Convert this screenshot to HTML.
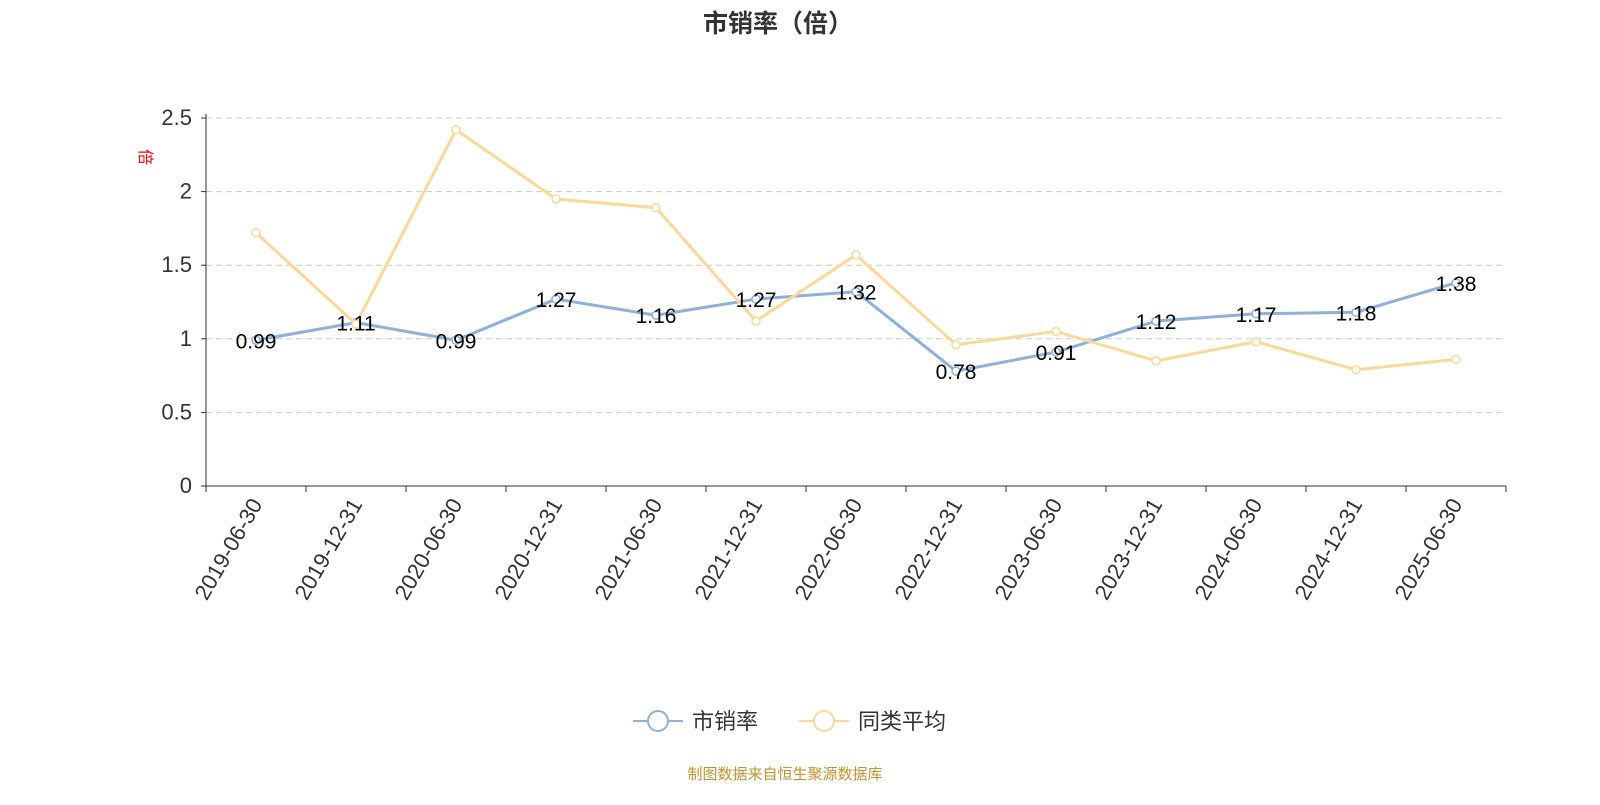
<!DOCTYPE html>
<html><head><meta charset="utf-8"><style>
body{margin:0;background:#fff;}
svg text{font-family:"Liberation Sans","Noto Sans CJK SC",sans-serif;}
</style></head><body>
<svg id="chart" width="1600" height="800" xmlns="http://www.w3.org/2000/svg">
<text x="778" y="32" text-anchor="middle" font-size="25" font-weight="bold" fill="#333">市销率（倍）</text>
<text x="0" y="0" transform="translate(140,157) rotate(90)" text-anchor="middle" font-size="16" fill="#ff0000">倍</text>
<g id="grid"></g><g id="axes"></g><g id="series"></g>
<g>
<g>
<line x1="633" y1="721" x2="683" y2="721" stroke="#8eb0dd" stroke-width="2"/>
<circle cx="658" cy="721" r="10" fill="#fff" stroke="#8eb0dd" stroke-width="2"/>
<text x="692" y="729" font-size="22" fill="#333">市销率</text></g>
<g>
<line x1="799" y1="721" x2="849" y2="721" stroke="#fdd898" stroke-width="2"/>
<circle cx="824" cy="721" r="10" fill="#fff" stroke="#fdd898" stroke-width="2"/>
<text x="858" y="729" font-size="22" fill="#333">同类平均</text></g>
</g>
<text x="785" y="779" text-anchor="middle" font-size="15" fill="#c8902a">制图数据来自恒生聚源数据库</text>
</svg>
<script>
const categories=["2019-06-30","2019-12-31","2020-06-30","2020-12-31","2021-06-30","2021-12-31","2022-06-30","2022-12-31","2023-06-30","2023-12-31","2024-06-30","2024-12-31","2025-06-30"];
const psValues=[0.99,1.11,0.99,1.27,1.16,1.27,1.32,0.78,0.91,1.12,1.17,1.18,1.38];
const peerValues=[1.72,1.10,2.42,1.95,1.89,1.12,1.57,0.96,1.05,0.85,0.98,0.79,0.86];
const yTicks=[0,0.5,1,1.5,2,2.5];
const tickLabels=["0","0.5","1","1.5","2","2.5"];
const NS="http://www.w3.org/2000/svg";
const x0=206,x1=1506,yBase=486,yTop=118,yMax=2.5;
const band=(x1-x0)/categories.length;
const xs=i=>x0+band*(i+0.5);
const ys=v=>yBase-(v/yMax)*(yBase-yTop);
function mk(tag,attrs,parent){const e=document.createElementNS(NS,tag);for(const k in attrs)e.setAttribute(k,attrs[k]);parent.appendChild(e);return e;}
const grid=document.getElementById('grid'),axes=document.getElementById('axes'),ser=document.getElementById('series');
yTicks.forEach((t,i)=>{
  if(t>0){const g=mk('line',{x1:x0,x2:x1,y1:ys(t),y2:ys(t),stroke:'#ccc','stroke-dasharray':'6,4'},grid);
  
  }
  const tk=mk('line',{x1:x0-5,x2:x0,y1:ys(t),y2:ys(t),stroke:'#333'},axes);
  
  
  const l=mk('text',{x:x0-14,y:ys(t)+7,'text-anchor':'end','font-size':'22',fill:'#333'},axes);
  l.textContent=tickLabels[i];
  
  
});
const ya=mk('line',{x1:x0,x2:x0,y1:yTop-4,y2:yBase,stroke:'#333'},axes);


const xa=mk('line',{x1:x0,x2:x1,y1:yBase,y2:yBase,stroke:'#333'},axes);


for(let i=0;i<=categories.length;i++){const t=mk('line',{x1:x0+band*i,x2:x0+band*i,y1:yBase,y2:yBase+6,stroke:'#333'},axes);

}
categories.forEach((c,i)=>{const x=xs(i);
  const l=mk('text',{x:0,y:0,transform:`translate(${x+7},${yBase+18}) rotate(-60)`,'text-anchor':'end','font-size':'22',fill:'#333'},axes);
  l.textContent=c;
  
  });
function drawSeries(vals,color,name){
  const p=mk('polyline',{points:vals.map((v,i)=>xs(i)+','+ys(v)).join(' '),fill:'none',stroke:color,'stroke-width':3,'stroke-linejoin':'round'},ser);
  
  
  vals.forEach((v,i)=>{const c=mk('circle',{cx:xs(i),cy:ys(v),r:4,fill:'#fff',stroke:color,'stroke-width':1.5},ser);
    
    
  });
}
drawSeries(psValues,'#8eb0dd','ps-ratio');
drawSeries(peerValues,'#fdd898','peer-average');
psValues.forEach((v,i)=>{const t=mk('text',{x:xs(i),y:ys(v)+8,'text-anchor':'middle','font-size':'21',fill:'#000'},ser);
  t.textContent=v.toFixed(2);
  
  });
</script>
</body></html>
